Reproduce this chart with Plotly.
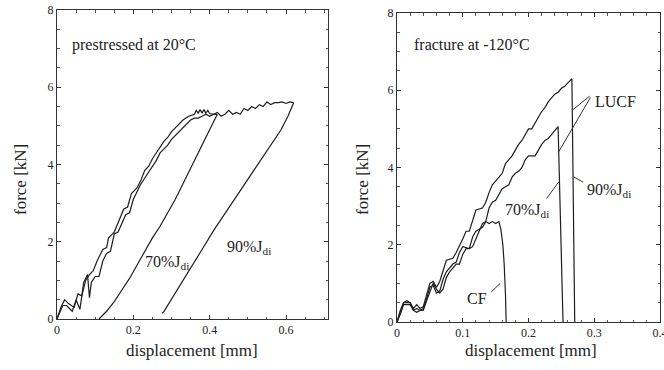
import plotly.graph_objects as go

# ---------------- left panel: prestressed at 20°C ----------------
load70_x = [0, 0.01, 0.02, 0.03, 0.045, 0.055, 0.065, 0.075, 0.085, 0.095, 0.105, 0.12, 0.13, 0.135, 0.15,
            0.165, 0.175, 0.185, 0.195, 0.21, 0.22, 0.23, 0.24, 0.25, 0.26, 0.27, 0.28, 0.29, 0.3, 0.31,
            0.32, 0.33, 0.345, 0.36, 0.365, 0.37, 0.375, 0.38, 0.385, 0.39, 0.395, 0.4, 0.41, 0.42]
load70_y = [0, 0.3, 0.5, 0.4, 0.3, 0.65, 0.6, 1.0, 1.15, 1.25, 1.5, 1.8, 1.85, 2.1, 2.25,
            2.6, 2.85, 2.9, 3.25, 3.4, 3.6, 3.85, 3.95, 4.15, 4.3, 4.45, 4.6, 4.7, 4.85, 4.95,
            5.05, 5.15, 5.25, 5.3, 5.4, 5.33, 5.42, 5.33, 5.42, 5.33, 5.4, 5.32, 5.3, 5.3]
unload70_x = [0.42, 0.41, 0.39, 0.37, 0.35, 0.33, 0.31, 0.29, 0.27, 0.25, 0.23, 0.21, 0.19, 0.17, 0.15, 0.13, 0.11]
unload70_y = [5.3, 5.1, 4.7, 4.3, 3.9, 3.5, 3.1, 2.75, 2.4, 2.1, 1.75, 1.4, 1.05, 0.75, 0.45, 0.2, 0]

load90_x = [0, 0.015, 0.025, 0.04, 0.05, 0.06, 0.07, 0.08, 0.085, 0.09, 0.1, 0.11, 0.12, 0.13, 0.14,
            0.15, 0.16, 0.17, 0.18, 0.19, 0.2, 0.21, 0.22, 0.23, 0.24, 0.25, 0.26, 0.27, 0.28, 0.29,
            0.3, 0.31, 0.32, 0.33, 0.34, 0.35, 0.36, 0.37, 0.38, 0.39, 0.4, 0.41, 0.42, 0.43, 0.44,
            0.45, 0.46, 0.47, 0.48, 0.49, 0.5, 0.51, 0.52, 0.53, 0.54, 0.55, 0.56, 0.57, 0.58, 0.59,
            0.6, 0.61, 0.62]
load90_y = [0, 0.35, 0.35, 0.2, 0.5, 0.25, 0.95, 1.15, 0.55, 0.95, 1.1, 1.1, 1.5, 1.7, 1.75,
            2.2, 2.25, 2.5, 2.7, 2.75, 3.1, 3.3, 3.5, 3.65, 3.8, 3.95, 4.1, 4.3, 4.4, 4.5,
            4.65, 4.75, 4.85, 4.95, 5.05, 5.15, 5.2, 5.2, 5.25, 5.3, 5.25, 5.3, 5.35, 5.25, 5.3,
            5.4, 5.3, 5.35, 5.3, 5.45, 5.4, 5.5, 5.45, 5.55, 5.5, 5.62, 5.55, 5.6, 5.6, 5.62,
            5.58, 5.62, 5.6]
unload90_x = [0.62, 0.605, 0.587, 0.56, 0.534, 0.5, 0.464, 0.44, 0.411, 0.38, 0.341, 0.31, 0.28, 0.275]
unload90_y = [5.6, 5.25, 4.9, 4.5, 4.12, 3.6, 3.08, 2.7, 2.3, 1.8, 1.18, 0.7, 0.19, 0.15]

# ---------------- right panel: fracture at -120°C ----------------
lucf90_x = [0, 0.005, 0.01, 0.02, 0.025, 0.03, 0.035, 0.04, 0.045, 0.05, 0.055, 0.06, 0.065, 0.07, 0.075,
            0.085, 0.09, 0.1, 0.105, 0.11, 0.115, 0.12, 0.13, 0.135, 0.14, 0.145, 0.15, 0.155, 0.16, 0.165,
            0.17, 0.175, 0.18, 0.185, 0.19, 0.195, 0.2, 0.205, 0.21, 0.215, 0.22, 0.225, 0.23, 0.235, 0.24,
            0.245, 0.25, 0.255, 0.26, 0.266, 0.2703]
lucf90_y = [0, 0.3, 0.5, 0.5, 0.35, 0.45, 0.35, 0.4, 0.7, 1.0, 1.05, 0.9, 1.05, 1.35, 1.6,
            1.65, 1.8, 2.15, 2.35, 2.35, 2.6, 2.9, 2.95, 3.1, 3.35, 3.55, 3.65, 3.75, 3.85, 4.1,
            4.2, 4.3, 4.45, 4.6, 4.7, 4.85, 5.0, 5.0, 5.15, 5.3, 5.45, 5.55, 5.7, 5.8, 5.9,
            5.95, 6.05, 6.1, 6.2, 6.3, 0]
lucf70_x = [0, 0.005, 0.01, 0.02, 0.025, 0.03, 0.035, 0.04, 0.045, 0.05, 0.055, 0.06, 0.065, 0.07, 0.075,
            0.08, 0.085, 0.09, 0.095, 0.1, 0.11, 0.115, 0.12, 0.13, 0.135, 0.14, 0.145, 0.15, 0.155, 0.16,
            0.165, 0.17, 0.175, 0.18, 0.185, 0.19, 0.195, 0.2, 0.21, 0.215, 0.22, 0.225, 0.23, 0.235, 0.24,
            0.245, 0.2525]
lucf70_y = [0, 0.2, 0.45, 0.45, 0.3, 0.35, 0.3, 0.35, 0.6, 0.9, 0.95, 0.75, 0.8, 1.1, 1.3,
            1.4, 1.5, 1.55, 1.8, 1.95, 1.9, 2.2, 2.35, 2.45, 2.6, 2.95, 3.1, 3.15, 3.3, 3.45,
            3.5, 3.55, 3.75, 3.85, 3.9, 4.0, 4.2, 4.3, 4.3, 4.45, 4.6, 4.7, 4.75, 4.85, 4.95,
            5.06, 0]
cf_x = [0, 0.005, 0.01, 0.015, 0.02, 0.025, 0.03, 0.035, 0.04, 0.045, 0.05, 0.055, 0.06, 0.065, 0.07,
        0.075, 0.08, 0.085, 0.09, 0.095, 0.1, 0.105, 0.11, 0.115, 0.12, 0.125, 0.13, 0.135, 0.14, 0.145,
        0.15, 0.155, 0.158, 0.161, 0.163, 0.165, 0.166]
cf_y = [0, 0.25, 0.5, 0.55, 0.5, 0.3, 0.25, 0.3, 0.3, 0.55, 0.8, 1.0, 0.85, 0.75, 0.85,
        1.15, 1.3, 1.4, 1.5, 1.5, 1.75, 1.9, 1.9, 1.95, 2.15, 2.35, 2.55, 2.6, 2.55, 2.6,
        2.55, 2.6, 2.4, 2.0, 1.5, 0.7, 0]

LINE = dict(color="#1e1e1e", width=1.2)
FONT = "Liberation Serif, Times New Roman, serif"

fig = go.Figure()
for xs, ys in [(load70_x, load70_y), (unload70_x, unload70_y), (load90_x, load90_y), (unload90_x, unload90_y)]:
    fig.add_trace(go.Scatter(x=xs, y=ys, mode="lines", line=LINE, xaxis="x", yaxis="y", showlegend=False))
for xs, ys in [(lucf90_x, lucf90_y), (lucf70_x, lucf70_y), (cf_x, cf_y)]:
    fig.add_trace(go.Scatter(x=xs, y=ys, mode="lines", line=LINE, xaxis="x2", yaxis="y2", showlegend=False))

axis_common = dict(showgrid=False, zeroline=False, showline=True, linecolor="#333", linewidth=1,
                   mirror="ticks", ticks="inside", ticklen=4, tickcolor="#333", automargin=False,
                   ticklabeloverflow="allow",
                   tickfont=dict(family=FONT, size=12, color="#222"))

fig.update_layout(
    width=664, height=370,
    margin=dict(l=0, r=0, t=0, b=0, autoexpand=False),
    paper_bgcolor="white", plot_bgcolor="white",
    xaxis=dict(domain=[57/664, 328/664], range=[0, 0.71], tickvals=[0, 0.2, 0.4, 0.6],
               ticktext=["0", "0.2", "0.4", "0.6"],
               minor=dict(dtick=0.05, ticks="inside", ticklen=2.5, tickcolor="#555"),
               anchor="y", **axis_common),
    yaxis=dict(domain=[1-319/370, 1-10/370], range=[0, 8], dtick=2,
               minor=dict(dtick=0.5, ticks="inside", ticklen=2.5, tickcolor="#555"),
               anchor="x", **axis_common),
    xaxis2=dict(domain=[397/664, 660/664], range=[0, 0.4], tickvals=[0, 0.1, 0.2, 0.3, 0.4],
                ticktext=["0", "0.1", "0.2", "0.3", "0.4"],
                minor=dict(dtick=0.02, ticks="inside", ticklen=2.5, tickcolor="#555"),
                anchor="y2", **axis_common),
    yaxis2=dict(domain=[1-322/370, 1-13/370], range=[0, 8], dtick=2,
                minor=dict(dtick=0.5, ticks="inside", ticklen=2.5, tickcolor="#555"),
                anchor="x2", **axis_common),
)

TXT = dict(family=FONT, size=16, color="#222")
ann = []
# panel texts
ann.append(dict(x=0.034, y=7.1, xref="x", yref="y", text="prestressed at 20°C", showarrow=False,
                xanchor="left", font=TXT))
ann.append(dict(x=0.023, y=7.18, xref="x2", yref="y2", text="fracture at -120°C", showarrow=False,
                xanchor="left", font=TXT))
ann.append(dict(x=0.289, y=1.45, xref="x", yref="y", text="70%J<sub>di</sub>", showarrow=False, font=TXT))
ann.append(dict(x=0.504, y=1.84, xref="x", yref="y", text="90%J<sub>di</sub>", showarrow=False, font=TXT))
ann.append(dict(x=0.333, y=5.71, xref="x2", yref="y2", text="LUCF", showarrow=False, font=TXT))
ann.append(dict(x=0.323, y=3.4, xref="x2", yref="y2", text="90%J<sub>di</sub>", showarrow=False, font=TXT))
ann.append(dict(x=0.197, y=2.88, xref="x2", yref="y2", text="70%J<sub>di</sub>", showarrow=False, font=TXT))
ann.append(dict(x=0.121, y=0.6, xref="x2", yref="y2", text="CF", showarrow=False, font=TXT))
# leader lines
leaders = [((0.2955, 5.88), (0.267, 5.49)), ((0.2955, 5.85), (0.246, 4.41)),
           ((0.285, 3.6), (0.2685, 3.76)), ((0.226, 3.16), (0.246, 3.63)),
           ((0.141, 0.74), (0.157, 1.0))]
for (x0, y0), (x1, y1) in leaders:
    ann.append(dict(x=x1, y=y1, ax=x0, ay=y0, xref="x2", yref="y2", axref="x2", ayref="y2",
                    text="", showarrow=True, arrowhead=0, arrowwidth=1, arrowcolor="#333"))
# axis titles
TT = dict(family=FONT, size=17, color="#222")
for xp, yp, t, ang in [(192, 350, "displacement [mm]", 0), (531, 350, "displacement [mm]", 0),
                       (20, 180, "force [kN]", -90), (362, 180, "force [kN]", -90)]:
    ann.append(dict(x=xp/664, y=1-yp/370, xref="paper", yref="paper", text=t, textangle=ang,
                    xanchor="center", yanchor="middle", showarrow=False, font=TT))
fig.update_layout(annotations=ann)

fig.write_html("out.html", config={"displayModeBar": False},
               post_script="document.body.style.margin='0';document.body.style.overflow='hidden';")
